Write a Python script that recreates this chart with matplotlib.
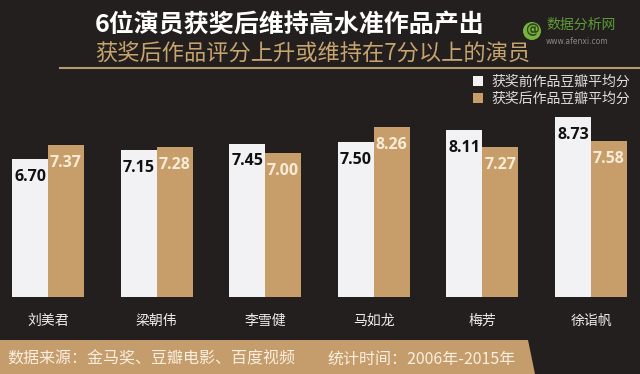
import matplotlib
matplotlib.use('Agg')
import matplotlib.pyplot as plt
from matplotlib.patches import Polygon, Ellipse
import numpy as np

# Data
actors = ['刘美君', '梁朝伟', '李雪健', '马如龙', '梅芳', '徐诣帆']
before = [6.70, 7.15, 7.45, 7.50, 8.11, 8.73]
after = [7.37, 7.28, 7.00, 8.26, 7.27, 7.58]
series_names = ['获奖前作品豆瓣平均分', '获奖后作品豆瓣平均分']

title = '6位演员获奖后维持高水准作品产出'
subtitle = '获奖后作品评分上升或维持在7分以上的演员'
footer = '数据来源：金马奖、豆瓣电影、百度视频'
footer_time = '统计时间：2006年-2015年'

BG = '#231f1e'
WHITE_BAR = '#f2f1f4'
TAN_BAR = '#c79d6a'
TAN_TEXT = '#c8a46f'

plt.rcParams['font.family'] = ['Noto Sans CJK SC', 'DejaVu Sans']

W, H = 640, 374
fig = plt.figure(figsize=(W / 100, H / 100), dpi=100, facecolor=BG)


def fx(px):
    return px / W


def fy(py):
    return 1 - py / H


# plot area: baseline at y=297px, top at 80px, full width
ax = fig.add_axes([0, fy(297), 1, (297 - 80) / H])
ax.set_facecolor('none')
x = np.arange(len(actors))
bw = 0.331
ax.bar(x - bw / 2, before, bw, color=WHITE_BAR, label=series_names[0])
ax.bar(x + bw / 2, after, bw, color=TAN_BAR, label=series_names[1])
ax.set_xlim(-48 / 108.6, (640 - 48) / 108.6)
ax.set_ylim(0, 217 / 20.6)
ax.axis('off')

off = 0.87
for i in range(len(actors)):
    ax.text(x[i] - bw / 2, before[i] - off, f'{before[i]:.2f}', ha='center', va='center',
            fontsize=11.5, fontweight='bold', color='#111111', family='Open Sans')
    ax.text(x[i] + bw / 2, after[i] - off, f'{after[i]:.2f}', ha='center', va='center',
            fontsize=11.5, fontweight='bold', color='#f8ecd8', family='Open Sans')
    ax.text(x[i], -1.17, actors[i], ha='center', va='center', fontsize=10, color='#eeeeee')

# legend
leg = ax.legend(loc='upper right', bbox_to_anchor=(1.0, 1.07), frameon=False, fontsize=10,
                handlelength=0.7, handleheight=0.7, handletextpad=0.6, labelspacing=0.25,
                borderaxespad=0.3)
for t in leg.get_texts():
    t.set_color('#dddddd')

# header
fig.text(fx(95), fy(25), title, fontsize=18, fontweight='bold', color='white', va='center', ha='left')
fig.text(fx(95), fy(54), subtitle, fontsize=16, color=TAN_TEXT, va='center', ha='left')
fig.add_artist(plt.Line2D([fx(60), 1], [fy(68), fy(68)], color='#b59a70', lw=1.5,
                          transform=fig.transFigure))

# watermark
fig.add_artist(Ellipse((fx(532), fy(31)), 18 / W, 18 / H, facecolor='#78b13f', edgecolor='none',
                       transform=fig.transFigure))
fig.text(fx(532), fy(30), '@', fontsize=10, fontweight='bold', color='#2e4a18', va='center', ha='center',
         family='DejaVu Sans')
fig.text(fx(546), fy(25), '数据分析网', fontsize=10, color='#5e9a3a', va='center', ha='left')
fig.text(fx(546), fy(41), 'www.afenxi.com', fontsize=5.5, color='#888888', va='center', ha='left',
         family='DejaVu Sans')

# footer band
fig.add_artist(Polygon([[fx(0), fy(340)], [fx(528), fy(340)], [fx(535), fy(374)], [fx(0), fy(374)]],
                       closed=True, facecolor='#c59c6b', edgecolor='none', transform=fig.transFigure))
fig.text(fx(7), fy(359), footer, fontsize=11.5, color='#fbefdf', va='center', ha='left')
fig.text(fx(327), fy(359), footer_time, fontsize=11.5, color='#fbefdf', va='center', ha='left')

fig.savefig('out.png', dpi=100, facecolor=BG)
